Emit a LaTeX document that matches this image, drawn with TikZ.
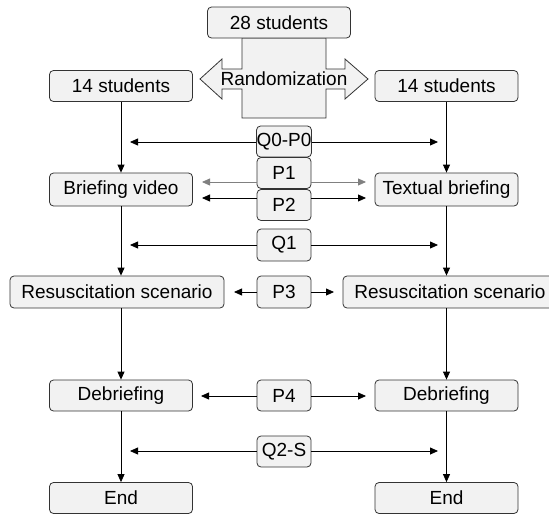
\documentclass[tikz,border=0pt]{standalone}
\usepackage{fontspec}
\setmainfont{Liberation Sans}
\usetikzlibrary{arrows.meta}
\definecolor{boxfill}{HTML}{F2F2F2}
\definecolor{boxline}{HTML}{333333}

\begin{document}
\begin{tikzpicture}[x = 1pt, y = -1pt,
  box/.style = {draw=boxline, fill=boxfill, rounded corners=4pt, line width=0.8pt,
    minimum width=143pt, minimum height=31pt, inner sep=0pt,
    font=\fontsize{19}{22}\selectfont},
  wide/.style = {box, minimum width=214pt},
  tag/.style = {box, minimum width=54pt},
  flow/.style = {-{Triangle[length=8pt,width=7pt]}, line width=0.8pt}]
  \useasboundingbox (0,0) rectangle (549,514);
  \clip (0,0) rectangle (549,514);
  % randomization cross
  \filldraw[draw=boxline, fill=boxfill, line width=0.8pt]
    (242,38) -- (326,38) -- (326,69) -- (345,69) -- (345,59) -- (368,79)
    -- (345,99) -- (345,89) -- (326,89) -- (326,118) -- (242,118) -- (242,89)
    -- (222,89) -- (222,99) -- (200,79) -- (222,59) -- (222,69) -- (242,69) -- cycle;
  \node[font=\fontsize{19}{22}\selectfont] (rand) at (284,79) {Randomization};
  \node[box] (all) at (279,22.5) {28 students};
  % two groups
  \node[box] (grpA) at (121,86) {14 students};
  \node[box] (grpB) at (446.5,86) {14 students};
  \node[box, minimum height=33pt] (videoA) at (121,189.5) {Briefing video};
  \node[box, minimum height=33pt] (textB) at (446.5,189.5) {Textual briefing};
  \node[wide, minimum height=32pt] (scenA) at (117,292) {Resuscitation scenario};
  \node[wide, minimum height=32pt] (scenB) at (450,292) {Resuscitation scenario};
  \node[box] (debrA) at (121,395.5) {Debriefing};
  \node[box] (debrB) at (446.5,395.5) {Debriefing};
  \node[box] (endA) at (121,498) {End};
  \node[box] (endB) at (446.5,498) {End};
  % measurements
  \node[tag] (q0) at (284,141.5) {Q0-P0};
  \node[tag] (p1) at (284,173) {P1};
  \node[tag] (p2) at (284,205) {P2};
  \node[tag, minimum height=32pt] (q1) at (284,245) {Q1};
  \node[tag, minimum height=32pt] (p3) at (284,292) {P3};
  \node[tag] (p4) at (284,395.5) {P4};
  \node[tag] (q2) at (284,451.5) {Q2-S};
  \coordinate (q0L) at (130,142);  \coordinate (q0R) at (438,142);
  \coordinate (p1L) at (202,182);  \coordinate (p1R) at (366,182);
  \coordinate (p2L) at (202,198);  \coordinate (p2R) at (366,198);
  \coordinate (q1L) at (130,245);  \coordinate (q1R) at (438,245);
  \coordinate (p3L) at (234,292);  \coordinate (p3R) at (334,292);
  \coordinate (p4L) at (201,396);  \coordinate (p4R) at (366,396);
  \coordinate (q2L) at (130,451);  \coordinate (q2R) at (438,451);
  \foreach \t in {q0,p2,q1,p3,p4,q2} {
    \draw[flow] (\t.west |- \t L) -- (\t L);
    \draw[flow] (\t.east |- \t R) -- (\t R);
  }
  \draw[flow, gray] (p1.west |- p1L) -- (p1L);
  \draw[flow, gray] (p1.east |- p1R) -- (p1R);
  % flow down
  \draw[flow] (grpA) -- (videoA);
  \draw[flow] (grpB) -- (textB);
  \draw[flow] (videoA) -- (videoA.south |- scenA.north);
  \draw[flow] (textB) -- (textB.south |- scenB.north);
  \draw[flow] (videoA.south |- scenA.south) -- (debrA);
  \draw[flow] (textB.south |- scenB.south) -- (debrB);
  \draw[flow] (debrA) -- (endA);
  \draw[flow] (debrB) -- (endB);
\end{tikzpicture}
\end{document}
